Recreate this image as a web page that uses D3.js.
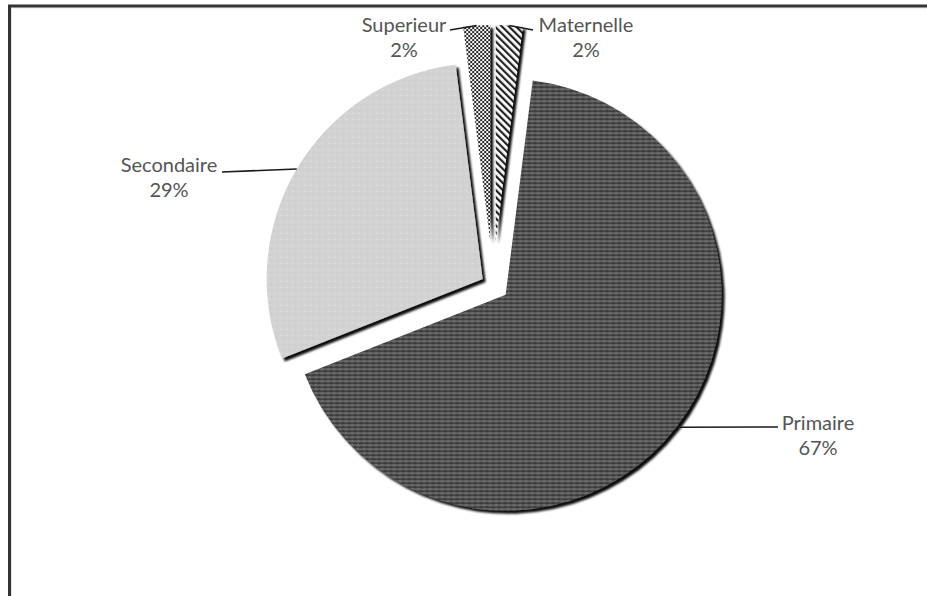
<!DOCTYPE html>
<html>
<head>
<meta charset="utf-8">
<script src="https://cdn.jsdelivr.net/npm/d3@7"></script>
<style>
  html, body { margin: 0; padding: 0; background: #fff; }
  svg { display: block; }
</style>
</head>
<body>
<svg id="chart" width="927" height="596"></svg>
<script>
// ---- data ----
const categories = ["Maternelle", "Primaire", "Secondaire", "Superieur"];
const values = [2, 67, 29, 2];
const percentLabels = ["2%", "67%", "29%", "2%"];

// ---- layout / style (kept apart from data) ----
const W = 927, H = 596;
const center = { x: 493, y: 285 };
const radius = 216;
const explode = [44, 16, 12, 44];
const fills = ["url(#pMat)", "url(#pPrim)", "url(#pSec)", "url(#pSup)"];
// label positions (text centre x, first baseline y) and leader-line end
const labelPos = [
  { x: 586, y: 32, lx: 533, ly: 30 },
  { x: 818, y: 430, lx: 778, ly: 427 },
  { x: 169, y: 172, lx: 222, ly: 172 },
  { x: 404, y: 32, lx: 450, ly: 30 }
];

const svg = d3.select("#chart");
const defs = svg.append("defs");

// Primaire: dark grey horizontal-line texture
const pPrim = defs.append("pattern").attr("id", "pPrim").attr("patternUnits", "userSpaceOnUse")
  .attr("width", 6).attr("height", 4);
pPrim.append("rect").attr("width", 6).attr("height", 4).attr("fill", "#555");
pPrim.append("rect").attr("y", 0).attr("width", 6).attr("height", 1).attr("fill", "#383838");
pPrim.append("rect").attr("y", 2).attr("width", 6).attr("height", 1).attr("fill", "#6c6c6c");
pPrim.append("rect").attr("x", 2).attr("y", 1).attr("width", 1).attr("height", 1).attr("fill", "#858585");
pPrim.append("rect").attr("x", 5).attr("y", 3).attr("width", 1).attr("height", 1).attr("fill", "#2a2a2a");

// Secondaire: light grey with faint dots
const pSec = defs.append("pattern").attr("id", "pSec").attr("patternUnits", "userSpaceOnUse")
  .attr("width", 6).attr("height", 6);
pSec.append("rect").attr("width", 6).attr("height", 6).attr("fill", "#d2d2d2");
pSec.append("rect").attr("x", 1).attr("y", 2).attr("width", 2).attr("height", 1).attr("fill", "#dedede");
pSec.append("rect").attr("x", 4).attr("y", 5).attr("width", 1).attr("height", 1).attr("fill", "#c4c4c4");

// Superieur: checker / dotted
const pSup = defs.append("pattern").attr("id", "pSup").attr("patternUnits", "userSpaceOnUse")
  .attr("width", 4).attr("height", 4);
pSup.append("rect").attr("width", 4).attr("height", 4).attr("fill", "#fff");
pSup.append("rect").attr("x", 0).attr("y", 0).attr("width", 2).attr("height", 2).attr("fill", "#222");
pSup.append("rect").attr("x", 2).attr("y", 2).attr("width", 2).attr("height", 2).attr("fill", "#222");

// Maternelle: diagonal stripes "\\"
const pMat = defs.append("pattern").attr("id", "pMat").attr("patternUnits", "userSpaceOnUse")
  .attr("width", 5).attr("height", 5).attr("patternTransform", "rotate(-45)");
pMat.append("rect").attr("width", 5).attr("height", 5).attr("fill", "#fff");
pMat.append("rect").attr("width", 2.2).attr("height", 5).attr("fill", "#222");

// shadow
const f = defs.append("filter").attr("id", "shadow").attr("x", "-20%").attr("y", "-20%")
  .attr("width", "140%").attr("height", "140%");
f.append("feDropShadow").attr("dx", 3).attr("dy", 3).attr("stdDeviation", 1.2)
  .attr("flood-color", "#000").attr("flood-opacity", 0.95);

// frame
svg.append("rect").attr("x", 11.5).attr("y", 8).attr("width", 1000).attr("height", 700)
  .attr("fill", "none").attr("stroke", "#e2e2e2").attr("stroke-width", 1);
svg.append("rect").attr("x", 9.5).attr("y", 6).attr("width", 1000).attr("height", 700)
  .attr("fill", "none").attr("stroke", "#333").attr("stroke-width", 3);

// pie
const pie = d3.pie().sort(null).value(d => d)(values);
const arc = d3.arc().innerRadius(0).outerRadius(radius);

const g = svg.append("g").attr("transform", `translate(${center.x},${center.y})`);

const slices = pie.map((p, i) => {
  const mid = (p.startAngle + p.endAngle) / 2;
  const ox = Math.sin(mid) * explode[i];
  const oy = -Math.cos(mid) * explode[i];
  return { p, i, mid, ox, oy };
});

g.selectAll("path.slice").data(slices).join("path")
  .attr("class", "slice")
  .attr("transform", d => `translate(${d.ox},${d.oy})`)
  .attr("d", d => arc(d.p))
  .attr("fill", d => fills[d.i])
  .attr("filter", "url(#shadow)");

// leader lines
g.selectAll("line.leader").data(slices).join("line")
  .attr("class", "leader")
  .attr("x1", d => d.ox + Math.sin(d.mid) * radius)
  .attr("y1", d => d.oy - Math.cos(d.mid) * radius)
  .attr("x2", d => labelPos[d.i].lx - center.x)
  .attr("y2", d => labelPos[d.i].ly - center.y)
  .attr("stroke", "#1a1a1a").attr("stroke-width", 1.6);

// labels
const lab = svg.selectAll("text.lab").data(slices).join("text")
  .attr("class", "lab")
  .attr("text-anchor", "middle")
  .attr("font-family", "Lato, 'Open Sans', sans-serif")
  .attr("font-size", 20)
  .attr("fill", "#555");
lab.append("tspan").attr("x", d => labelPos[d.i].x).attr("y", d => labelPos[d.i].y)
  .text(d => categories[d.i]);
lab.append("tspan").attr("x", d => labelPos[d.i].x).attr("y", d => labelPos[d.i].y + 25)
  .text(d => percentLabels[d.i]);
</script>
</body>
</html>
